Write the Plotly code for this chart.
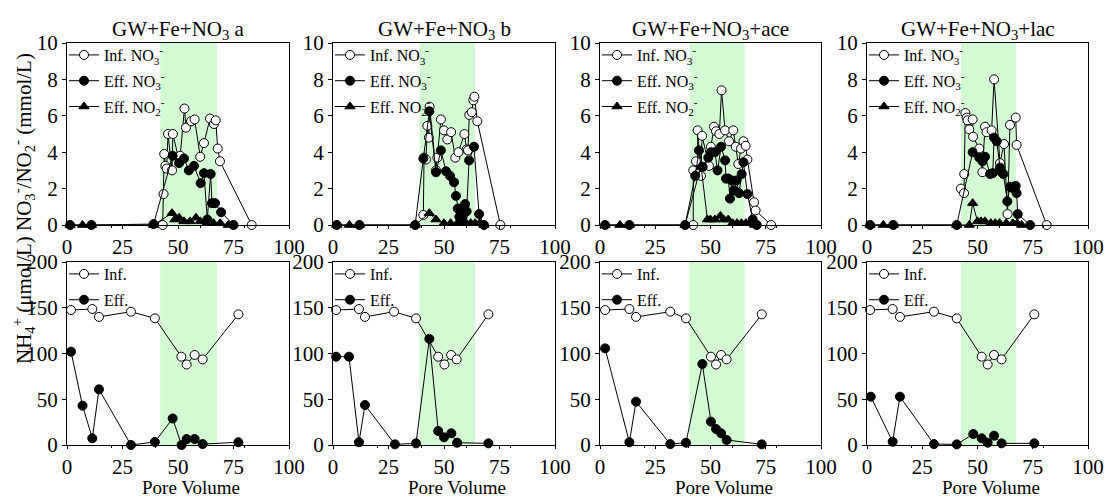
import plotly.graph_objects as go

FONT = "Liberation Serif"

# ---------------- data ----------------
titles = ["GW+Fe+NO<sub>3</sub> a", "GW+Fe+NO<sub>3</sub> b",
          "GW+Fe+NO<sub>3</sub>+ace", "GW+Fe+NO<sub>3</sub>+lac"]
x_ticks = [0, 25, 50, 75, 100]
no3_ticks = [0, 2, 4, 6, 8, 10]
nh4_ticks = [0, 50, 100, 150, 200]
shade_start = [42, 39, 40.5, 42.5]
shade_end = [67.5, 64, 65.5, 67.5]

# panel a
a_inf_x = [43.1, 43.5, 43.8, 44.3, 44.9, 45.5, 47.3, 47.7, 50.1, 51.0, 52.9, 53.6, 55.9, 57.5, 60.0, 61.7, 64.4, 66.2, 67.0, 67.9, 68.9, 83.2]
a_inf_y = [0.0, 1.7, 3.9, 3.25, 3.1, 5.0, 3.0, 5.0, 3.75, 3.8, 6.4, 5.35, 5.7, 5.8, 3.75, 4.5, 5.85, 5.55, 5.75, 4.2, 3.5, 0.0]
a_eff_x = [1.4, 11.0, 39.0, 47.6, 50.5, 52.7, 54.9, 57.2, 60.2, 61.7, 63.2, 64.7, 65.3, 66.7, 69.4, 75.0]
a_eff_y = [0.0, 0.0, 0.05, 3.8, 3.4, 3.65, 3.0, 3.25, 2.3, 2.85, 0.3, 2.8, 1.2, 1.2, 0.7, 0.0]
a_no2_x = [1.4, 7.0, 11.0, 39.0, 47.3, 48.6, 50.5, 52.7, 55.4, 58.1, 60.0, 63.0, 66.0, 69.0, 72.7]
a_no2_y = [0.0, 0.0, 0.0, 0.0, 0.65, 0.3, 0.4, 0.2, 0.2, 0.4, 0.2, 0.1, 0.1, 0.1, 0.0]

# panel b
b_inf_x = [40.7, 41.0, 41.9, 42.5, 43.2, 43.5, 46.4, 47.0, 48.6, 50.0, 51.5, 53.2, 55.1, 56.5, 59.2, 60.2, 60.8, 61.4, 62.5, 63.2, 63.7, 65.0, 75.4]
b_inf_y = [0.55, 3.7, 3.6, 5.45, 4.8, 6.5, 3.0, 3.7, 5.8, 5.2, 4.7, 5.1, 3.7, 4.0, 5.0, 4.15, 4.1, 6.05, 6.2, 6.85, 7.05, 5.7, 0.0]
b_eff_x = [1.7, 11.9, 37.0, 40.7, 43.4, 46.4, 48.6, 50.9, 52.7, 54.5, 55.4, 56.2, 56.9, 57.7, 58.4, 59.5, 60.2, 61.3, 63.5, 65.8, 68.0]
b_eff_y = [0.0, 0.0, 0.0, 3.65, 6.25, 2.9, 4.1, 2.95, 2.7, 2.35, 1.6, 0.9, 0.45, 0.9, 0.45, 1.15, 0.75, 3.55, 4.3, 0.6, 0.0]
b_no2_x = [1.7, 7.4, 11.9, 37.0, 43.4, 46.4, 50.0, 53.0, 56.0, 58.0, 60.0, 62.0, 64.0, 66.0, 68.0]
b_no2_y = [0.0, 0.0, 0.0, 0.0, 0.65, 0.3, 0.1, 0.1, 0.1, 0.1, 0.1, 0.1, 0.1, 0.1, 0.0]

# panel ace
c_inf_x = [42.2, 42.2, 43.4, 44.2, 44.2, 45.7, 46.2, 49.3, 50.2, 51.6, 52.5, 54.0, 55.0, 56.6, 58.4, 60.3, 61.4, 62.6, 63.8, 64.9, 65.9, 66.7, 69.7, 70.4, 77.4]
c_inf_y = [0.0, 3.0, 3.5, 2.8, 5.2, 2.7, 4.9, 3.25, 4.3, 5.4, 5.15, 5.0, 7.4, 5.2, 4.6, 5.2, 4.3, 3.35, 4.2, 4.6, 4.35, 3.6, 1.25, 0.8, 0.0]
c_eff_x = [2.3, 13.3, 38.5, 43.1, 44.8, 46.5, 49.0, 50.2, 52.0, 53.2, 54.8, 56.6, 57.0, 58.1, 58.8, 59.6, 60.6, 61.8, 62.9, 64.1, 64.9, 66.7, 69.1, 70.9]
c_eff_y = [0.0, 0.0, 0.0, 2.7, 4.1, 3.2, 3.7, 4.0, 4.0, 3.0, 4.3, 3.55, 2.55, 2.55, 1.45, 2.45, 1.9, 2.45, 1.75, 2.8, 3.45, 1.7, 0.3, 0.0]
c_no2_x = [2.3, 9.0, 13.3, 38.5, 45.7, 48.6, 50.0, 52.0, 54.5, 56.0, 58.0, 60.0, 62.0, 64.0, 66.0, 68.0, 70.0]
c_no2_y = [0.0, 0.0, 0.0, 0.0, 3.25, 0.3, 0.3, 0.3, 0.5, 0.3, 0.3, 0.1, 0.1, 0.1, 0.1, 0.1, 0.0]

# panel lac
d_inf_x = [42.5, 43.9, 44.0, 44.5, 45.1, 45.5, 46.3, 47.8, 48.0, 50.8, 52.2, 53.4, 54.1, 56.4, 57.5, 60.2, 62.0, 63.6, 64.7, 67.3, 67.7, 81.3]
d_inf_y = [2.0, 1.75, 2.8, 6.15, 5.9, 5.75, 5.25, 5.8, 4.85, 4.2, 2.9, 5.4, 5.1, 5.2, 8.0, 3.4, 4.45, 0.6, 5.5, 5.9, 4.4, 0.0]
d_eff_x = [1.4, 11.9, 40.6, 47.8, 50.8, 52.3, 53.4, 55.7, 56.9, 57.5, 58.7, 60.2, 60.9, 61.7, 63.5, 64.7, 65.6, 67.3, 67.7, 68.2, 73.8]
d_eff_y = [0.0, 0.0, 0.0, 4.0, 3.7, 3.5, 3.75, 2.8, 2.85, 4.8, 4.6, 3.15, 2.9, 2.8, 1.3, 2.1, 2.05, 2.15, 1.75, 0.6, 0.0]
d_no2_x = [1.4, 7.4, 11.9, 40.6, 46.3, 47.8, 50.0, 51.6, 53.4, 56.0, 58.0, 60.0, 63.0, 66.0, 68.0, 70.0]
d_no2_y = [0.0, 0.0, 0.0, 0.0, 0.0, 1.2, 0.2, 0.2, 0.2, 0.1, 0.1, 0.1, 0.1, 0.1, 0.1, 0.0]

# NH4+ panels
a_nh4_inf_x = [1.8, 11.4, 14.4, 28.8, 39.6, 51.5, 53.9, 57.5, 61.1, 77.2]
a_nh4_inf_y = [147.5, 148.6, 140.0, 145.7, 138.4, 96.5, 88.0, 98.4, 93.6, 142.8]
a_nh4_eff_x = [1.8, 7.0, 11.4, 14.4, 28.8, 39.6, 47.6, 51.6, 53.9, 57.5, 61.1, 77.2]
a_nh4_eff_y = [102.0, 43.0, 7.3, 60.8, 0.0, 3.3, 29.0, 0.0, 6.5, 6.5, 1.0, 3.0]

b_nh4_inf_x = [1.4, 11.7, 14.4, 27.5, 37.4, 47.4, 50.2, 53.2, 55.7, 70.0]
b_nh4_inf_y = [147.5, 148.6, 140.0, 145.7, 138.4, 96.5, 88.0, 98.4, 93.6, 142.8]
b_nh4_eff_x = [1.4, 7.2, 11.7, 14.4, 27.9, 37.4, 43.4, 47.4, 50.0, 53.3, 55.9, 70.0]
b_nh4_eff_y = [96.5, 96.5, 3.0, 43.7, 0.7, 1.8, 116.0, 15.3, 8.4, 12.8, 2.5, 1.8]

c_nh4_inf_x = [2.3, 13.3, 16.3, 31.8, 38.9, 50.2, 52.5, 54.8, 57.3, 73.2]
c_nh4_inf_y = [147.5, 148.6, 140.0, 145.7, 138.4, 96.5, 88.0, 98.4, 93.6, 142.8]
c_nh4_eff_x = [2.3, 13.3, 16.3, 31.8, 38.9, 46.3, 50.2, 52.5, 54.8, 57.3, 73.2]
c_nh4_eff_y = [105.6, 3.0, 47.4, 1.0, 2.5, 88.5, 25.5, 17.5, 12.8, 5.5, 0.7]

d_nh4_inf_x = [1.4, 11.6, 14.9, 30.3, 40.6, 51.9, 54.6, 57.5, 60.9, 75.7]
d_nh4_inf_y = [147.5, 148.6, 140.0, 145.7, 138.4, 96.5, 88.0, 98.4, 93.6, 142.8]
d_nh4_eff_x = [1.7, 11.6, 14.9, 30.3, 40.6, 48.1, 51.9, 54.6, 57.5, 60.9, 75.7]
d_nh4_eff_y = [52.8, 3.6, 52.8, 1.0, 0.7, 12.0, 7.3, 2.5, 10.2, 1.8, 1.8]

# ---------------- layout geometry ----------------
W, H = 1108, 499
col_px = [(67, 289), (333, 555), (600, 821), (867, 1088)]
top_px = (43, 225)
bot_px = (262, 445)

def xd(c):
    return [col_px[c][0] / W, col_px[c][1] / W]

def yd(r):
    y0, y1 = r
    return [(H - y1) / H, (H - y0) / H]

top_sets = [
    (a_inf_x, a_inf_y, a_eff_x, a_eff_y, a_no2_x, a_no2_y),
    (b_inf_x, b_inf_y, b_eff_x, b_eff_y, b_no2_x, b_no2_y),
    (c_inf_x, c_inf_y, c_eff_x, c_eff_y, c_no2_x, c_no2_y),
    (d_inf_x, d_inf_y, d_eff_x, d_eff_y, d_no2_x, d_no2_y),
]
bot_sets = [
    (a_nh4_inf_x, a_nh4_inf_y, a_nh4_eff_x, a_nh4_eff_y),
    (b_nh4_inf_x, b_nh4_inf_y, b_nh4_eff_x, b_nh4_eff_y),
    (c_nh4_inf_x, c_nh4_inf_y, c_nh4_eff_x, c_nh4_eff_y),
    (d_nh4_inf_x, d_nh4_inf_y, d_nh4_eff_x, d_nh4_eff_y),
]

fig = go.Figure()
MS = 9

def add(x, y, name, symbol, fill, n, grp):
    sfx = "" if n == 1 else str(n)
    fig.add_trace(go.Scatter(
        x=x, y=y, mode="lines+markers", name=name,
        line=dict(color="black", width=1),
        marker=dict(symbol=symbol, size=MS, color=fill,
                    line=dict(color="black", width=1)),
        xaxis="x" + sfx, yaxis="y" + sfx, legend="legend" + sfx,
        legendgroup=grp + sfx, cliponaxis=False))

for c in range(4):
    n = c + 1
    ix, iy, ex, ey, nx, ny = top_sets[c]
    add(ix, iy, "Inf. NO<sub>3</sub><sup>-</sup>", "circle", "white", n, "g1")
    add(ex, ey, "Eff. NO<sub>3</sub><sup>-</sup>", "circle", "black", n, "g2")
    add(nx, ny, "Eff. NO<sub>2</sub><sup>-</sup>", "triangle-up", "black", n, "g3")
for c in range(4):
    n = c + 5
    ix, iy, ex, ey = bot_sets[c]
    add(ix, iy, "Inf.", "circle", "white", n, "g1")
    add(ex, ey, "Eff.", "circle", "black", n, "g2")

axis_common = dict(
    showline=True, linecolor="black", linewidth=1, mirror=True,
    ticks="outside", ticklen=4, tickwidth=1, tickcolor="black",
    showgrid=False, zeroline=False, automargin=False,
    tickfont=dict(family=FONT, size=21, color="black"),
    minor=dict(ticks="outside", ticklen=2, tickcolor="black", nticks=2, showgrid=False),
)

layout = dict(
    template="none",
    width=W, height=H, margin=dict(l=0, r=0, t=0, b=0, autoexpand=False),
    paper_bgcolor="white", plot_bgcolor="white",
    font=dict(family=FONT, color="black"),
    shapes=[], annotations=[],
)

for i in range(8):
    n = i + 1
    c = i % 4
    top = i < 4
    sfx = "" if n == 1 else str(n)
    xa = dict(axis_common)
    xa.update(domain=xd(c), range=[0, 100], tickvals=x_ticks,
              anchor="y" + sfx, ticklen=3)
    ya = dict(axis_common)
    if top:
        ya.update(domain=yd(top_px), range=[0, 10], tickvals=no3_ticks)
    else:
        ya.update(domain=yd(bot_px), range=[0, 200], tickvals=nh4_ticks)
    ya.update(anchor="x" + sfx)
    layout["xaxis" + sfx] = xa
    layout["yaxis" + sfx] = ya
    dom_x = xd(c)
    dom_y = yd(top_px) if top else yd(bot_px)
    layout["legend" + sfx] = dict(
        x=dom_x[0] - 3 / W, y=dom_y[1] + 5 / H, xanchor="left", yanchor="top",
        bgcolor="rgba(0,0,0,0)", borderwidth=0,
        font=dict(family=FONT, size=16, color="black"),
        traceorder="grouped", tracegroupgap=2, itemwidth=30,
    )
    layout["shapes"].append(dict(
        type="rect", xref="x" + sfx, yref="y" + sfx + " domain",
        x0=shade_start[c], x1=shade_end[c], y0=0, y1=1,
        fillcolor="rgb(212,250,212)", line=dict(width=0), layer="below"))
    if top:
        layout["annotations"].append(dict(
            text=titles[c], xref="paper", yref="paper",
            x=(dom_x[0] + dom_x[1]) / 2, y=dom_y[1], yshift=-2,
            xanchor="center", yanchor="bottom", showarrow=False,
            font=dict(family=FONT, size=21, color="black")))
    else:
        layout["annotations"].append(dict(
            text="Pore Volume", xref="paper", yref="paper",
            x=(dom_x[0] + dom_x[1]) / 2 + 13 / W, y=(H - 487) / H,
            xanchor="center", yanchor="middle", showarrow=False,
            font=dict(family=FONT, size=19, color="black")))

layout["annotations"].append(dict(
    text="NO<sub>3</sub><sup>-</sup>/NO<sub>2</sub><sup>-</sup> (mmol/L)",
    xref="paper", yref="paper", x=24 / W, y=(H - 142) / H, textangle=-90,
    xanchor="center", yanchor="middle", showarrow=False,
    font=dict(family=FONT, size=21, color="black")))
layout["annotations"].append(dict(
    text="NH<sub>4</sub><sup>+</sup> (μmol/L)",
    xref="paper", yref="paper", x=24 / W, y=(H - 300) / H, textangle=-90,
    xanchor="center", yanchor="middle", showarrow=False,
    font=dict(family=FONT, size=21, color="black")))

fig.update_layout(**layout)
fig.write_html("out.html")
